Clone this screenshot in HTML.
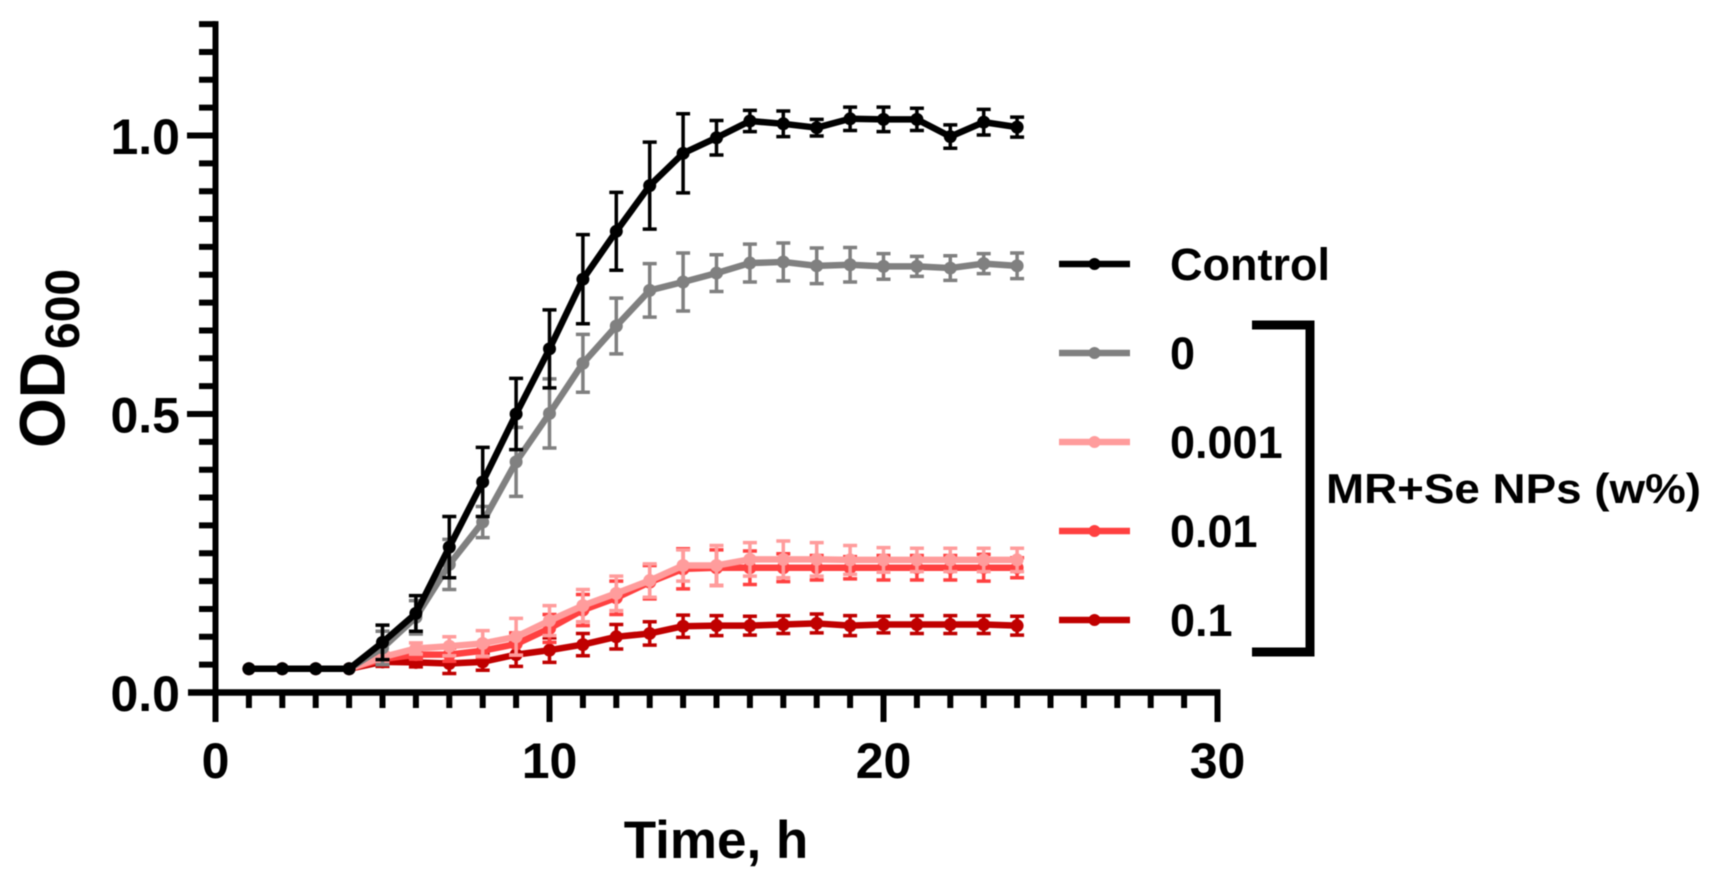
<!DOCTYPE html>
<html lang="en">
<head>
<meta charset="utf-8">
<title>Bacterial growth curves</title>
<style>
html,body{margin:0;padding:0;background:#fff;width:1717px;height:880px;overflow:hidden}
svg{display:block;font-family:"Liberation Sans",Arial,sans-serif;font-weight:bold;filter:blur(0.45px)}
</style>
</head>
<body>
<svg id="chart" xmlns="http://www.w3.org/2000/svg" width="1717" height="880" viewBox="0 0 1717 880">
  <g id="series-layer"></g>
  <g id="axis-layer"></g>
  <text transform="translate(64.5,448) rotate(-90)" font-size="64" fill="#000">OD</text>
  <text transform="translate(79,349) rotate(-90)" font-size="48" fill="#000">600</text>
  <text x="716" y="858" font-size="53" text-anchor="middle" fill="#000">Time, h</text>
  <g id="legend-layer"></g>
  <path d="M1252 325 H1310 V652 H1252" fill="none" stroke="#000" stroke-width="9"/>
  <text x="1326" y="503" font-size="42" textLength="375" lengthAdjust="spacingAndGlyphs" fill="#000">MR+Se NPs (w%)</text>
</svg>
<script>
const hours = [1,2,3,4,5,6,7,8,9,10,11,12,13,14,15,16,17,18,19,20,21,22,23,24];
const controlValues = [.0426,.0426,.0426,.0426,.09,.142,.261,.378,.5,.617,.742,.828,.91,.968,.996,1.026,1.021,1.014,1.03,1.029,1.029,.998,1.024,1.015];
const controlErrors = [0,0,0,0,.031,.032,.055,.062,.064,.07,.08,.07,.078,.071,.031,.019,.023,.015,.021,.022,.02,.021,.023,.018];
const np0Values = [.0426,.0426,.0426,.0426,.08,.135,.23,.306,.414,.501,.591,.658,.722,.737,.753,.771,.773,.766,.768,.765,.765,.762,.77,.766];
const np0Errors = [0,0,0,0,.03,.03,.045,.028,.062,.062,.052,.05,.048,.052,.033,.034,.034,.032,.031,.023,.018,.022,.018,.023];
const np001Values = [.0426,.0426,.0426,.0426,.0635,.079,.083,.088,.1,.129,.156,.178,.201,.228,.228,.239,.239,.239,.238,.238,.238,.238,.238,.238];
const np001Errors = [0,0,0,0,.008,.01,.017,.023,.033,.027,.029,.031,.03,.028,.036,.03,.033,.03,.026,.022,.021,.021,.021,.021];
const np01Values = [.0426,.0426,.0426,.0426,.06,.068,.068,.075,.087,.115,.148,.17,.198,.222,.224,.224,.224,.224,.224,.224,.224,.224,.224,.224];
const np01Errors = [0,0,0,0,.006,.008,.012,.012,.02,.025,.028,.03,.03,.036,.032,.03,.025,.022,.02,.022,.022,.022,.024,.018];
const np1Values = [.0426,.0426,.0426,.0426,.055,.054,.052,.055,.068,.076,.086,.1,.106,.119,.12,.12,.122,.124,.12,.122,.122,.122,.122,.12];
const np1Errors = [0,0,0,0,.008,.008,.018,.015,.021,.022,.02,.022,.021,.02,.018,.017,.016,.017,.018,.015,.016,.016,.016,.017];
const xTickLabels = ["0","10","20","30"];
const yTickLabels = ["0.0","0.5","1.0"];
const legendLabels = ["Control","0","0.001","0.01","0.1"];

const NS = 'http://www.w3.org/2000/svg';
const xScale = t => 215.5 + 33.4 * t;
const yScale = v => 692.5 - 557 * v;
const seriesLayer = document.getElementById('series-layer');
const axisLayer = document.getElementById('axis-layer');
const legendLayer = document.getElementById('legend-layer');

function make(parent, tag, attrs, text) {
  const el = document.createElementNS(NS, tag);
  for (const k in attrs) el.setAttribute(k, attrs[k]);
  if (text !== undefined) el.textContent = text;
  parent.appendChild(el);
  return el;
}

function drawSeries(key, values, errors, color) {
  const g = make(seriesLayer, 'g', {});
  
  
  hours.forEach((t, i) => {
    if (!errors[i]) return;
    const x = xScale(t), top = yScale(values[i] + errors[i]), bottom = yScale(values[i] - errors[i]);
    const bar = make(g, 'path', {
      d: 'M' + (x - 7) + ' ' + top + 'H' + (x + 7) + 'M' + x + ' ' + top + 'V' + bottom + 'M' + (x - 7) + ' ' + bottom + 'H' + (x + 7),
      fill: 'none', stroke: color, 'stroke-width': 3.5
    });
    
    
  });
  const line = make(g, 'polyline', {
    points: hours.map((t, i) => xScale(t) + ',' + yScale(values[i])).join(' '),
    fill: 'none', stroke: color, 'stroke-width': 6.5, 'stroke-linejoin': 'round'
  });
  
  
  hours.forEach((t, i) => {
    const point = make(g, 'circle', { cx: xScale(t), cy: yScale(values[i]), r: 6.5, fill: color });
    
    
  });
}

drawSeries('0.1', np1Values, np1Errors, '#c00000');
drawSeries('0.01', np01Values, np01Errors, '#ff4040');
drawSeries('0.001', np001Values, np001Errors, '#ff9c9c');
drawSeries('0', np0Values, np0Errors, '#808080');
drawSeries('control', controlValues, controlErrors, '#000000');

/* axes */
const yAxisLine = make(axisLayer, 'line', { x1: xScale(0), x2: xScale(0), y1: yScale(1.2) - 3, y2: 722, stroke: '#000', 'stroke-width': 6 });


const xAxisLine = make(axisLayer, 'line', { x1: 188, x2: xScale(30) + 3, y1: yScale(0), y2: yScale(0), stroke: '#000', 'stroke-width': 6.5 });



for (let i = 1; i <= 30; i++) {
  const major = i % 10 === 0;
  const tick = make(axisLayer, 'line', { x1: xScale(i), x2: xScale(i), y1: yScale(0), y2: major ? 722 : 708, stroke: '#000', 'stroke-width': 6 });
  
  
}
for (let i = 1; i <= 24; i++) {
  const major = i % 10 === 0;
  const tick = make(axisLayer, 'line', { x1: major ? 187 : 199, x2: xScale(0), y1: yScale(i * 0.05), y2: yScale(i * 0.05), stroke: '#000', 'stroke-width': 6 });
  
  
}
xTickLabels.forEach(s => {
  const label = make(axisLayer, 'text', { x: xScale(Number(s)), y: 778, 'font-size': 50, 'text-anchor': 'middle', fill: '#000' }, s);
  
  
});
yTickLabels.forEach(s => {
  const label = make(axisLayer, 'text', { x: 180, y: yScale(Number(s)) + 18.5, 'font-size': 50, 'text-anchor': 'end', fill: '#000' }, s);
  
  
});

/* legend */
const legendColors = ['#000000', '#808080', '#ff9c9c', '#ff4040', '#c00000'];
legendLabels.forEach((s, i) => {
  const cy = 264 + i * 89;
  const entry = make(legendLayer, 'g', {});
  
  
  make(entry, 'line', { x1: 1059, x2: 1130, y1: cy, y2: cy, stroke: legendColors[i], 'stroke-width': 6.5 });
  make(entry, 'circle', { cx: 1094.5, cy: cy, r: 6, fill: legendColors[i] });
  make(entry, 'text', { x: 1170, y: cy + 16, 'font-size': 45, fill: '#000' }, s);
});
</script>
</body>
</html>
